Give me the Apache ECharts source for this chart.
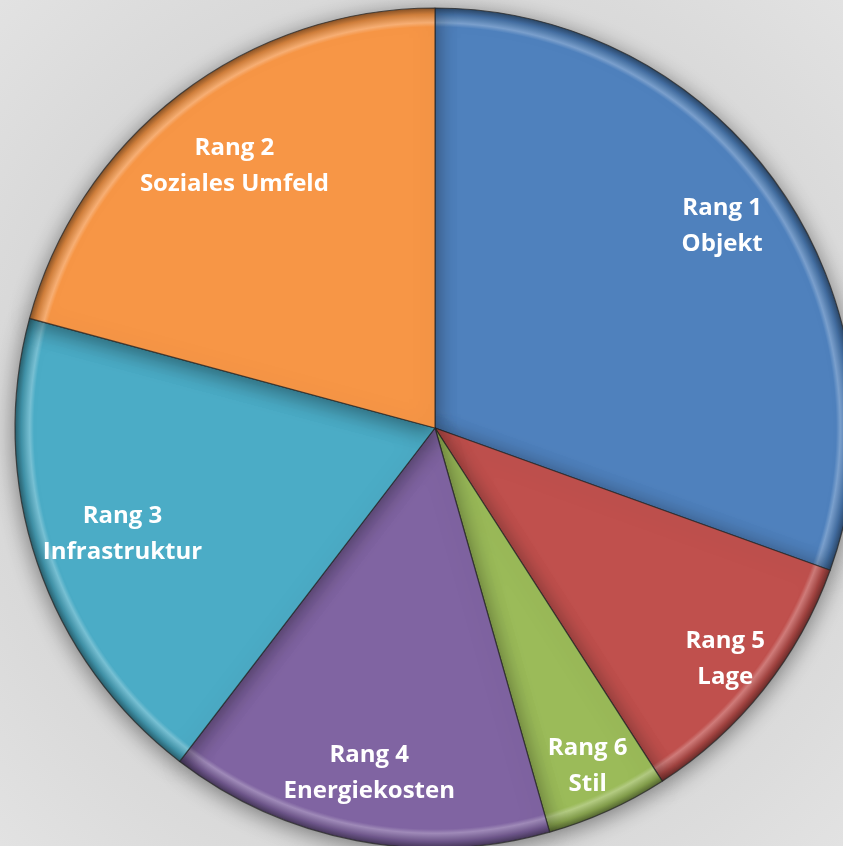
<!DOCTYPE html>
<html>
<head>
<meta charset="utf-8">
<script src="https://cdn.jsdelivr.net/npm/echarts@6/dist/echarts.min.js"></script>
<style>html,body{margin:0;padding:0;background:#dcdcdc}#c{width:843px;height:846px}</style>
</head>
<body>
<div id="c"></div>
<script>
// Slices in clockwise order starting at 12 o'clock
const categories = ['Rang 1\nObjekt', 'Rang 5\nLage', 'Rang 6\nStil', 'Rang 4\nEnergiekosten', 'Rang 3\nInfrastruktur', 'Rang 2\nSoziales Umfeld'];
const values = [30.5, 10.4, 4.7, 14.8, 18.8, 20.8];
const colors = ['#4F81BD', '#C0504D', '#9BBB59', '#8064A2', '#4BACC6', '#F79646'];
// how far out each label sits (group index per slice)
const labelGroup = [1, 2, 2, 1, 0, 0];

function shade(hex, f) {
  const n = parseInt(hex.slice(1), 16);
  let r = (n >> 16) & 255, g = (n >> 8) & 255, b = n & 255;
  if (f < 0) { r = Math.round(r * (1 + f)); g = Math.round(g * (1 + f)); b = Math.round(b * (1 + f)); }
  else { r = Math.round(r + (255 - r) * f); g = Math.round(g + (255 - g) * f); b = Math.round(b + (255 - b) * f); }
  return 'rgb(' + r + ',' + g + ',' + b + ')';
}

const chart = echarts.init(document.getElementById('c'), null, { renderer: 'canvas' });
const center = [435, 428];
const R = 420;
const groupInner = [234, 276, 316];

const baseData = categories.map((c, i) => ({
  name: c, value: values[i],
  itemStyle: {
    color: {
      type: 'radial', x: center[0], y: center[1], r: R, global: true,
      colorStops: [
        { offset: 0, color: colors[i] },
        { offset: 0.955, color: colors[i] },
        { offset: 0.965, color: shade(colors[i], 0.25) },
        { offset: 0.985, color: shade(colors[i], -0.15) },
        { offset: 1, color: shade(colors[i], -0.45) }
      ]
    }
  }
}));

function labelSeries(g) {
  return {
    type: 'pie', center: center, radius: [groupInner[g], R], startAngle: 90, clockwise: true,
    silent: true, itemStyle: { color: 'rgba(0,0,0,0)', borderWidth: 0 },
    labelLine: { show: false },
    label: {
      show: true, position: 'inside', color: '#ffffff',
      fontFamily: 'Open Sans', fontWeight: 'bold', fontSize: 24, lineHeight: 36
    },
    data: categories.map((c, i) => ({ name: c, value: values[i], label: { show: labelGroup[i] === g } }))
  };
}

chart.setOption({
  backgroundColor: {
    type: 'radial', x: 0.5, y: 0.5, r: 0.75,
    colorStops: [{ offset: 0, color: '#cfcfcf' }, { offset: 0.6, color: '#d6d6d6' }, { offset: 1, color: '#e4e4e4' }]
  },
  animation: false,
  series: [
    {
      type: 'pie', center: center, radius: [0, R], startAngle: 90, clockwise: true,
      silent: true, label: { show: false }, labelLine: { show: false },
      itemStyle: {
        borderColor: 'rgba(40,40,40,0.75)', borderWidth: 1.2,
        shadowBlur: 22, shadowColor: 'rgba(0,0,0,0.45)', shadowOffsetY: 4
      },
      data: baseData
    },
    labelSeries(0), labelSeries(1), labelSeries(2)
  ]
});
</script>
</body>
</html>
